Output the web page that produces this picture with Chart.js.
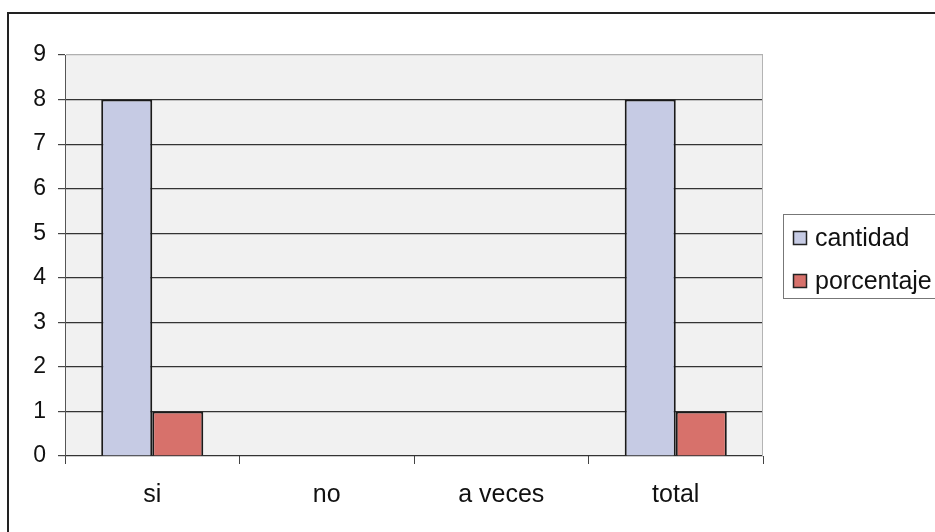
<!DOCTYPE html>
<html>
<head>
<meta charset="utf-8">
<script src="https://cdn.jsdelivr.net/npm/chart.js@4/dist/chart.umd.min.js"></script>
<style>
  html, body { margin: 0; padding: 0; background: #ffffff; }
  canvas { display: block; }
</style>
</head>
<body>
<canvas id="grafico" width="935" height="532"></canvas>
<script>
const categories = ['si', 'no', 'a veces', 'total'];
const cantidad = [8, 0, 0, 8];
const porcentaje = [1, 0, 0, 1];
const seriesNames = ['cantidad', 'porcentaje'];
const seriesColors = ['#c6cbe4', '#d7716b'];
const yMin = 0;
const yMax = 9;

const FONT = '"Liberation Sans", Arial, sans-serif';

// marco, fondo del area de trazado y borde derecho
const fondoPlugin = {
  id: 'fondo',
  beforeDraw(chart) {
    const { ctx, chartArea: a } = chart;
    ctx.save();
    ctx.fillStyle = '#f1f1f1';
    ctx.fillRect(a.left, a.top, a.right - a.left, a.bottom - a.top);
    ctx.restore();
  },
  afterDraw(chart) {
    const { ctx, chartArea: a } = chart;
    ctx.save();
    ctx.strokeStyle = '#b4b4b4';
    ctx.lineWidth = 1;
    ctx.beginPath();
    ctx.moveTo(a.right - 0.5, a.top);
    ctx.lineTo(a.right - 0.5, a.bottom);
    ctx.stroke();

    ctx.strokeStyle = '#222';
    ctx.lineWidth = 2;
    ctx.beginPath();
    ctx.moveTo(8, 532);
    ctx.lineTo(8, 13);
    ctx.lineTo(935, 13);
    ctx.stroke();
    ctx.restore();
  }
};

// leyenda a la derecha con recuadro
const leyendaPlugin = {
  id: 'leyenda',
  afterDraw(chart) {
    const { ctx } = chart;
    ctx.save();
    ctx.strokeStyle = '#777';
    ctx.lineWidth = 1;
    ctx.strokeRect(783.5, 214.5, 170, 84);
    ctx.font = '25px ' + FONT;
    ctx.textBaseline = 'middle';
    chart.data.datasets.forEach((ds, i) => {
      const y = 238 + i * 43;
      ctx.fillStyle = ds.backgroundColor;
      ctx.fillRect(793, y - 7, 14, 14);
      ctx.strokeStyle = '#222';
      ctx.lineWidth = 1.5;
      ctx.strokeRect(793.5, y - 6.5, 13, 13);
      ctx.fillStyle = '#111';
      ctx.fillText(ds.label, 815, y + 1);
    });
    ctx.restore();
  }
};

new Chart(document.getElementById('grafico').getContext('2d'), {
  type: 'bar',
  data: {
    labels: categories,
    datasets: [{
      label: seriesNames[0],
      data: cantidad,
      backgroundColor: seriesColors[0],
      borderColor: '#1a1a1a',
      borderWidth: 2,
      categoryPercentage: 0.585,
      barPercentage: 1
    }, {
      label: seriesNames[1],
      data: porcentaje,
      backgroundColor: seriesColors[1],
      borderColor: '#1a1a1a',
      borderWidth: 2,
      categoryPercentage: 0.585,
      barPercentage: 1
    }]
  },
  options: {
    responsive: false,
    animation: false,
    devicePixelRatio: 1,
    layout: { padding: { left: 0, top: 55, right: 172, bottom: 0 } },
    plugins: {
      legend: { display: false },
      tooltip: { enabled: false }
    },
    scales: {
      x: {
        afterFit(scale) { scale.height = 76; },
        grid: {
          display: true,
          drawOnChartArea: false,
          drawTicks: true,
          tickLength: 8,
          tickColor: '#444',
          offset: true
        },
        border: { display: false },
        ticks: {
          color: '#111',
          padding: 16,
          font: { family: FONT, size: 25 }
        }
      },
      y: {
        min: yMin,
        max: yMax,
        afterFit(scale) { scale.width = 65; },
        grid: {
          color: ctx => (ctx.tick && ctx.tick.value === yMax ? '#b0b0b0' : '#333'),
          tickColor: '#444',
          tickLength: 7,
          lineWidth: 1.2
        },
        border: { display: true, color: '#555', width: 1 },
        ticks: {
          stepSize: 1,
          color: '#111',
          padding: 12,
          font: { family: FONT, size: 23 }
        }
      }
    }
  },
  plugins: [fondoPlugin, leyendaPlugin]
});
</script>
</body>
</html>
